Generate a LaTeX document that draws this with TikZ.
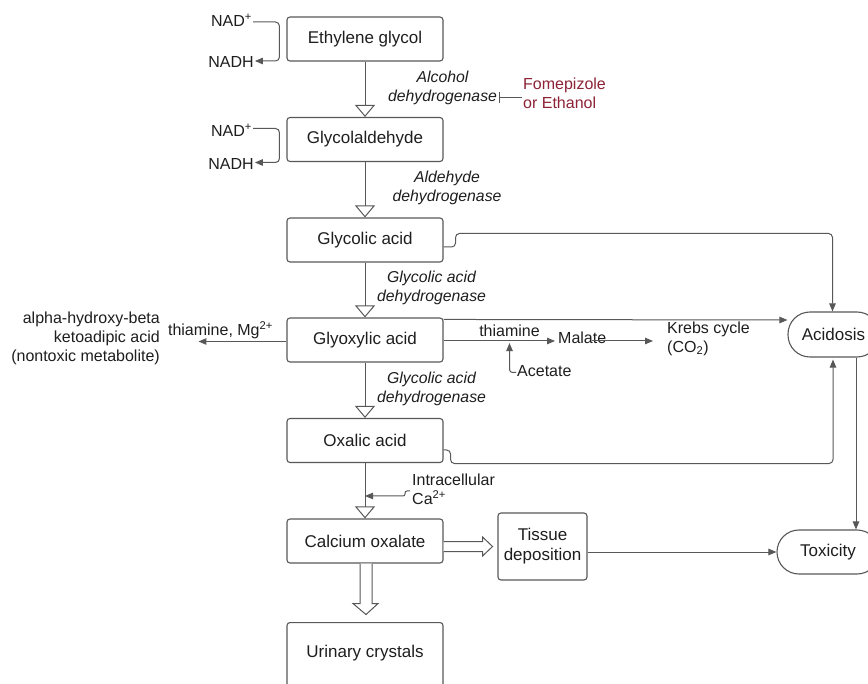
\documentclass[tikz,border=0pt]{standalone}
\usepackage{fontspec}
\setmainfont{Liberation Sans}
\usetikzlibrary{arrows.meta,calc}
\definecolor{ln}{RGB}{88,88,88}
\definecolor{tx}{RGB}{30,30,30}
\definecolor{redtxt}{RGB}{140,35,55}
\begin{document}
\begin{tikzpicture}[x=1pt,y=-1pt,
 box/.style={draw=ln,line width=1.1pt,rounded corners=3pt,minimum width=156pt,minimum height=44pt,inner sep=0pt,font=\fontsize{17}{20}\selectfont,text=tx},
 lbl/.style={inner sep=1pt,font=\fontsize{16}{19}\selectfont,text=tx},
 enz/.style={inner sep=1pt,font=\fontsize{15.8}{19}\selectfont\itshape,align=center,text=tx},
 conn/.style={draw=ln,line width=1pt,-{Triangle[length=8pt,width=6.5pt]}},
 plainline/.style={draw=ln,line width=1pt},
 flowarrow/.style={draw=ln,line width=1pt,-{Triangle[open,length=12pt,width=20pt]}},
 fat/.style={draw=ln,line width=1pt,fill=white,line join=miter},
 pill/.style={draw=ln,line width=1.1pt,rounded corners=22pt,minimum height=45pt,inner sep=0pt,font=\fontsize{17}{20}\selectfont,text=tx},
 ]
\useasboundingbox (0,0) rectangle (868,684);
\fill[white] (0,0) rectangle (868,684);
\clip (0,0) rectangle (868,684);

% main column
\node[box] (eg) at (365,39) {Ethylene glycol};
\node[box] (ga) at (365,139.5) {Glycolaldehyde};
\node[box] (gca) at (365,240) {Glycolic acid};
\node[box] (gxa) at (365,340) {Glyoxylic acid};
\node[box] (oxa) at (365,440.5) {Oxalic acid};
\node[box] (cao) at (365,541) {Calcium oxalate};
\node[box,minimum height=80pt,anchor=north] (uc) at (365,622) {};
\node[box,draw=none] (uct) at (365,653) {Urinary crystals};

\draw[flowarrow] (eg.south) -- (ga.north);
\draw[flowarrow] (ga.south) -- (gca.north);
\draw[flowarrow] (gca.south) -- (gxa.north);
\draw[flowarrow] (gxa.south) -- (oxa.north);
\draw[flowarrow] (oxa.south) -- (cao.north);

% enzymes
\node[enz] (e1) at (442.5,88) {Alcohol\\dehydrogenase};
\node[enz] (e2) at (447,188) {Aldehyde\\dehydrogenase};
\node[enz] (e3) at (431.5,287.5) {Glycolic acid\\dehydrogenase};
\node[enz] (e4) at (431.5,389) {Glycolic acid\\dehydrogenase};

% inhibitor
\node[lbl,text=redtxt,align=left,anchor=west] (fome) at (522,93) {Fomepizole\\or Ethanol};
\coordinate (tee) at (499,98);
\draw[plainline,{Bar[width=11pt,line width=1pt]}-] (tee) -- (tee -| fome.west);

% NAD brackets
\node[lbl] (nad1) at (231.5,20) {NAD\textsuperscript{+}};
\node[lbl] (nadh1) at (231,62) {NADH};
\draw[conn,rounded corners=4pt] ($(nad1.east)+(0,2)$) -| ($(eg.west)+(-7,0)$) |- ($(nadh1.east)+(0,-1)$);
\node[lbl] (nad2) at (231.5,130) {NAD\textsuperscript{+}};
\node[lbl] (nadh2) at (231,163.5) {NADH};
\draw[conn,rounded corners=4pt] ($(nad2.east)+(0,-1.5)$) -| ($(ga.west)+(-7,0)$) |- ($(nadh2.east)+(0,-1)$);

% left branch
\draw[conn] ($(gxa.west)+(0,1.5)$) -- ++(-88,0) coordinate (lt);
\node[lbl] (thmg) at (220.5,330) {thiamine, Mg\textsuperscript{2+}};
\node[lbl,align=right,anchor=east] (aha) at (161,338) {alpha-hydroxy-beta\\ketoadipic acid\\(nontoxic metabolite)};

% right end nodes
\node[pill,minimum width=91pt] (acid) at (833.5,334.5) {Acidosis};
\node[pill,minimum width=102pt,minimum height=44pt] (tox) at (828,552) {Toxicity};
\node[box,minimum width=89pt,minimum height=67pt,align=center,font=\fontsize{17}{20}\selectfont] (tis) at (542.5,546.5) {Tissue\\deposition};

% glyoxylic to the right
\coordinate (g1) at ($(gxa.north east)+(0,2)$);
\draw[conn] (g1) -- ($(acid.west)+(0,-14.5)$);
\node[lbl,anchor=west] (mal) at (557,338) {Malate};
\node[lbl] (thi) at (509.5,331) {thiamine};
\draw[conn] ($(gxa.east)+(0,1)$) -- ($(mal.west)+(-2,3)$);
\node[lbl,anchor=west,align=left] (krebs) at (666,338.5) {Krebs cycle\\(CO\textsubscript{2})};
\draw[conn] ($(mal.east)+(-15,3)$) -- ($(krebs.west)+(-13,2.5)$);
\node[lbl,anchor=west] (acet) at (516,371) {Acetate};
\draw[conn,rounded corners=3pt] ($(acet.west)+(0,1.5)$) -| ($(thi.south)+(0,5)$);

% acidosis connectors
\draw[conn,rounded corners=4pt] ($(gca.east)+(0,7)$) -- ++(12,0) |- ($(acid.north)+(-1,-78)$) -- ($(acid.north)+(-1,0)$);
\draw[conn,rounded corners=4pt] ($(oxa.east)+(0,9.5)$) -- ++(7,0) |- ($(acid.south)+(-0.5,106)$) -- ($(acid.south)+(-0.5,2)$);
\draw[conn] ($(acid.south)+(22.5,0)$) -- ($(tox.north)+(28,0)$);
\draw[conn] (tis.east |- tox.west) -- (tox.west);

% intracellular Ca
\node[lbl,anchor=west,align=left] (ca) at (411,489.5) {Intracellular\\Ca\textsuperscript{2+}};
\draw[conn,rounded corners=2pt] ($(ca.west)+(-1,1.5)$) -- ++(-5,0) -- ++(0,5) -- (oxa.south |- 0,496);

% hollow thick arrows
\draw[fat] ($(cao.east)+(0,0.5)$) -- ++(39,0) -- ++(0,-4.5) -- ++(10,9.5) -- ++(-10,9.5) -- ++(0,-4.5) -- ++(-39,0);
\draw[fat] ($(cao.south)+(-5,0)$) -- ++(0,40) -- ++(-7,0) -- ++(13,11) -- ++(12,-11) -- ++(-6,0) -- ++(0,-40);
\end{tikzpicture}
\end{document}
